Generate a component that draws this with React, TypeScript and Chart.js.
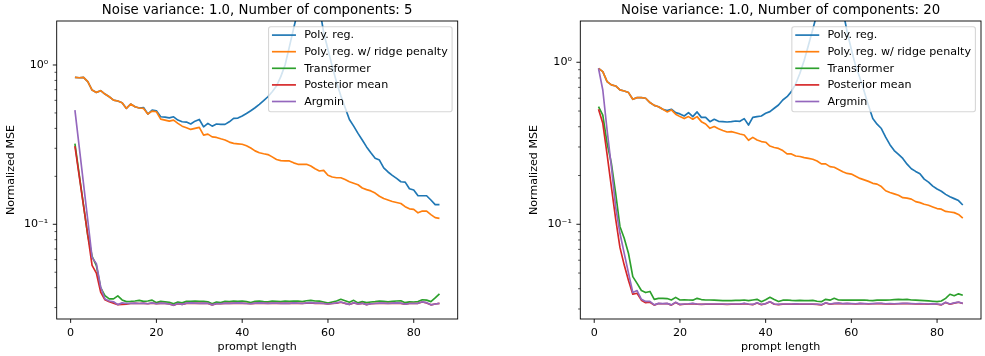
import React, { useEffect, useRef } from 'react';
import { Chart, registerables } from 'chart.js';

Chart.register(...registerables);

const FONT = '"DejaVu Sans", "Liberation Sans", sans-serif';

// ---------------- data ----------------
const promptLength = Array.from({ length: 86 }, (_, i) => i + 1);

const seriesNames = ['Poly. reg.', 'Poly. reg. w/ ridge penalty', 'Transformer', 'Posterior mean', 'Argmin'];
const seriesColors = ['#1f77b4', '#ff7f0e', '#2ca02c', '#d62728', '#9467bd'];

const xTickValues = [0, 20, 40, 60, 80];
const yMajorTicks = [0.1, 1];
const yMajorLabels = ['10\u207B\u00B9', '10\u2070'];
const yMinorTicks = [0.03, 0.04, 0.05, 0.06, 0.07, 0.08, 0.09, 0.2, 0.3, 0.4, 0.5, 0.6, 0.7, 0.8, 0.9];

const leftTitle = 'Noise variance: 1.0, Number of components: 5';
const rightTitle = 'Noise variance: 1.0, Number of components: 20';

// Left panel (5 components)
const leftPolyReg = [
  0.836, 0.832, 0.836, 0.786, 0.696, 0.673, 0.690, 0.657, 0.632, 0.602,
  0.594, 0.580, 0.534, 0.569, 0.547, 0.537, 0.541, 0.492, 0.521, 0.516,
  0.473, 0.471, 0.466, 0.473, 0.451, 0.440, 0.438, 0.426, 0.444, 0.455,
  0.409, 0.430, 0.413, 0.426, 0.424, 0.424, 0.440, 0.462, 0.464, 0.478,
  0.496, 0.516, 0.539, 0.566, 0.597, 0.632, 0.680, 0.738, 0.845, 1.00,
  1.30, 1.70, 2.20, 2.80, 3.20, 3.40, 3.00, 2.30, 1.60, 1.25,
  0.98, 0.78, 0.64, 0.54, 0.455, 0.413, 0.372, 0.338, 0.306, 0.281,
  0.260, 0.253, 0.226, 0.213, 0.203, 0.194, 0.185, 0.184, 0.167, 0.164,
  0.151, 0.151, 0.151, 0.142, 0.133, 0.133,
];
const leftRidge = [
  0.836, 0.832, 0.836, 0.786, 0.696, 0.673, 0.690, 0.657, 0.632, 0.602,
  0.594, 0.580, 0.534, 0.569, 0.547, 0.537, 0.534, 0.492, 0.513, 0.509,
  0.457, 0.451, 0.444, 0.451, 0.430, 0.413, 0.404, 0.394, 0.400, 0.406,
  0.363, 0.368, 0.354, 0.351, 0.344, 0.338, 0.328, 0.322, 0.320, 0.318,
  0.311, 0.301, 0.289, 0.281, 0.277, 0.274, 0.265, 0.255, 0.251, 0.250,
  0.250, 0.243, 0.238, 0.238, 0.238, 0.232, 0.223, 0.216, 0.218, 0.203,
  0.198, 0.196, 0.196, 0.191, 0.185, 0.181, 0.177, 0.169, 0.165, 0.162,
  0.157, 0.150, 0.145, 0.142, 0.139, 0.137, 0.135, 0.129, 0.125, 0.124,
  0.118, 0.121, 0.121, 0.115, 0.110, 0.109,
];
const leftTransformer = [
  0.321, 0.205, 0.132, 0.085, 0.063, 0.055, 0.040, 0.0357, 0.0340, 0.0340,
  0.0355, 0.0335, 0.0327, 0.0328, 0.0330, 0.0333, 0.0328, 0.0330, 0.0334, 0.0322,
  0.0328, 0.0326, 0.0324, 0.0317, 0.0325, 0.0321, 0.0328, 0.0328, 0.0329, 0.0328,
  0.0328, 0.0326, 0.0317, 0.0325, 0.0322, 0.0328, 0.0327, 0.0329, 0.0328, 0.0330,
  0.0327, 0.0323, 0.0328, 0.0329, 0.0327, 0.0326, 0.0329, 0.0328, 0.0327, 0.0329,
  0.0328, 0.0330, 0.0329, 0.0327, 0.0331, 0.0333, 0.0330, 0.0329, 0.0325, 0.0320,
  0.0325, 0.0330, 0.0338, 0.0331, 0.0324, 0.0333, 0.0321, 0.0327, 0.0322, 0.0325,
  0.0327, 0.0330, 0.0328, 0.0326, 0.0328, 0.0330, 0.0331, 0.0322, 0.0326, 0.0325,
  0.0327, 0.0336, 0.0334, 0.0327, 0.0345, 0.0366,
];
const leftPosterior = [
  0.310, 0.201, 0.131, 0.0853, 0.0552, 0.0494, 0.0375, 0.0336, 0.0326, 0.0320,
  0.0313, 0.0314, 0.0315, 0.0318, 0.0319, 0.0318, 0.0319, 0.0317, 0.0320, 0.0317,
  0.0319, 0.0318, 0.0316, 0.0310, 0.0317, 0.0314, 0.0319, 0.0320, 0.0319, 0.0319,
  0.0319, 0.0318, 0.0312, 0.0317, 0.0317, 0.0319, 0.0319, 0.0319, 0.0320, 0.0319,
  0.0318, 0.0317, 0.0319, 0.0320, 0.0319, 0.0319, 0.0319, 0.0319, 0.0319, 0.0319,
  0.0319, 0.0320, 0.0319, 0.0318, 0.0320, 0.0321, 0.0319, 0.0319, 0.0318, 0.0316,
  0.0318, 0.0320, 0.0324, 0.0319, 0.0314, 0.0321, 0.0316, 0.0319, 0.0313, 0.0317,
  0.0318, 0.0319, 0.0319, 0.0318, 0.0319, 0.0320, 0.0319, 0.0315, 0.0318, 0.0318,
  0.0319, 0.0325, 0.0321, 0.0312, 0.0316, 0.0319,
];
const leftArgmin = [
  0.521, 0.306, 0.180, 0.106, 0.062, 0.0566, 0.0404, 0.0340, 0.0330, 0.0326,
  0.0313, 0.0321, 0.0318, 0.0319, 0.0320, 0.0318, 0.0320, 0.0317, 0.0321, 0.0317,
  0.0320, 0.0319, 0.0316, 0.0310, 0.0318, 0.0314, 0.0320, 0.0321, 0.0320, 0.0319,
  0.0320, 0.0319, 0.0312, 0.0318, 0.0317, 0.0320, 0.0319, 0.0320, 0.0321, 0.0320,
  0.0318, 0.0317, 0.0320, 0.0321, 0.0320, 0.0319, 0.0320, 0.0320, 0.0319, 0.0320,
  0.0319, 0.0321, 0.0320, 0.0318, 0.0321, 0.0322, 0.0320, 0.0320, 0.0318, 0.0316,
  0.0318, 0.0321, 0.0325, 0.0319, 0.0314, 0.0322, 0.0316, 0.0319, 0.0313, 0.0317,
  0.0318, 0.0320, 0.0320, 0.0318, 0.0320, 0.0321, 0.0320, 0.0315, 0.0318, 0.0318,
  0.0319, 0.0326, 0.0322, 0.0312, 0.0316, 0.0319,
];

// Right panel (20 components)
const rightPolyReg = [
  0.918, 0.876, 0.760, 0.725, 0.714, 0.675, 0.665, 0.650, 0.591, 0.605,
  0.605, 0.600, 0.564, 0.542, 0.532, 0.513, 0.503, 0.513, 0.489, 0.480,
  0.466, 0.489, 0.462, 0.494, 0.457, 0.457, 0.430, 0.445, 0.432, 0.430,
  0.428, 0.430, 0.434, 0.432, 0.449, 0.410, 0.457, 0.462, 0.466, 0.484,
  0.496, 0.520, 0.545, 0.585, 0.613, 0.659, 0.734, 0.855, 1.03, 1.28,
  1.60, 2.00, 2.50, 3.00, 3.30, 3.20, 2.70, 2.10, 1.55, 1.20,
  0.95, 0.80, 0.66, 0.54, 0.45, 0.415, 0.39, 0.345, 0.31, 0.285,
  0.27, 0.255, 0.235, 0.22, 0.212, 0.205, 0.19, 0.182, 0.172, 0.165,
  0.16, 0.153, 0.148, 0.144, 0.140, 0.1315,
];
const rightRidge = [
  0.918, 0.876, 0.760, 0.725, 0.714, 0.675, 0.665, 0.650, 0.591, 0.605,
  0.605, 0.600, 0.564, 0.542, 0.532, 0.513, 0.494, 0.508, 0.478, 0.462,
  0.449, 0.462, 0.445, 0.462, 0.430, 0.416, 0.391, 0.401, 0.389, 0.379,
  0.371, 0.373, 0.367, 0.361, 0.356, 0.330, 0.344, 0.331, 0.324, 0.321,
  0.304, 0.298, 0.294, 0.285, 0.272, 0.272, 0.264, 0.262, 0.258, 0.255,
  0.252, 0.246, 0.236, 0.236, 0.227, 0.225, 0.218, 0.211, 0.206, 0.204,
  0.198, 0.192, 0.188, 0.184, 0.179, 0.177, 0.171, 0.161, 0.157, 0.154,
  0.151, 0.146, 0.145, 0.143, 0.138, 0.136, 0.133, 0.131, 0.128, 0.125,
  0.124, 0.120, 0.119, 0.118, 0.115, 0.109,
];
const rightTransformer = [
  0.532, 0.472, 0.316, 0.238, 0.155, 0.097, 0.082, 0.066, 0.0475, 0.0432,
  0.0390, 0.0379, 0.0385, 0.0344, 0.0349, 0.0349, 0.0348, 0.0341, 0.0354, 0.0341,
  0.0342, 0.0341, 0.0340, 0.0349, 0.0343, 0.0341, 0.0341, 0.0340, 0.0339, 0.0338,
  0.0338, 0.0338, 0.0339, 0.0339, 0.0341, 0.0338, 0.0341, 0.0344, 0.0333, 0.0342,
  0.0354, 0.0343, 0.0334, 0.0340, 0.0341, 0.0339, 0.0338, 0.0339, 0.0338, 0.0338,
  0.0339, 0.0335, 0.0333, 0.0344, 0.0340, 0.0349, 0.0341, 0.0340, 0.0341, 0.0340,
  0.0341, 0.0340, 0.0341, 0.0339, 0.0338, 0.0340, 0.0341, 0.0340, 0.0341, 0.0343,
  0.0344, 0.0343, 0.0344, 0.0341, 0.0340, 0.0339, 0.0338, 0.0337, 0.0335, 0.0333,
  0.0336, 0.0349, 0.0370, 0.0362, 0.0372, 0.0365,
];
const rightPosterior = [
  0.513, 0.420, 0.270, 0.170, 0.108, 0.072, 0.056, 0.045, 0.037, 0.0375,
  0.0340, 0.0328, 0.0330, 0.0317, 0.0324, 0.0323, 0.0324, 0.0317, 0.0329, 0.0319,
  0.0321, 0.0322, 0.0324, 0.0321, 0.0320, 0.0321, 0.0321, 0.0321, 0.0321, 0.0321,
  0.0320, 0.0321, 0.0321, 0.0321, 0.0324, 0.0321, 0.0319, 0.0327, 0.0319, 0.0323,
  0.0332, 0.0321, 0.0319, 0.0321, 0.0321, 0.0321, 0.0322, 0.0321, 0.0321, 0.0321,
  0.0321, 0.0320, 0.0318, 0.0327, 0.0321, 0.0324, 0.0325, 0.0323, 0.0324, 0.0323,
  0.0322, 0.0324, 0.0323, 0.0322, 0.0323, 0.0324, 0.0324, 0.0322, 0.0323, 0.0322,
  0.0323, 0.0324, 0.0324, 0.0323, 0.0322, 0.0323, 0.0322, 0.0321, 0.0323, 0.0321,
  0.0318, 0.0329, 0.0321, 0.0326, 0.0330, 0.0324,
];
const rightArgmin = [
  0.918, 0.674, 0.382, 0.227, 0.128, 0.088, 0.0662, 0.0499, 0.0379, 0.0390,
  0.0344, 0.0334, 0.0334, 0.0318, 0.0325, 0.0324, 0.0325, 0.0318, 0.0330, 0.0320,
  0.0322, 0.0323, 0.0325, 0.0322, 0.0321, 0.0322, 0.0322, 0.0322, 0.0322, 0.0322,
  0.0321, 0.0322, 0.0322, 0.0322, 0.0325, 0.0322, 0.0320, 0.0328, 0.0320, 0.0324,
  0.0333, 0.0322, 0.0320, 0.0322, 0.0322, 0.0322, 0.0323, 0.0322, 0.0322, 0.0322,
  0.0322, 0.0321, 0.0319, 0.0328, 0.0322, 0.0325, 0.0326, 0.0324, 0.0325, 0.0324,
  0.0323, 0.0325, 0.0324, 0.0323, 0.0324, 0.0325, 0.0325, 0.0323, 0.0324, 0.0323,
  0.0324, 0.0325, 0.0325, 0.0324, 0.0323, 0.0324, 0.0323, 0.0322, 0.0324, 0.0322,
  0.0319, 0.0330, 0.0322, 0.0327, 0.0331, 0.0325,
];

// ---------------- drawing helpers ----------------
const decorPlugin = {
  id: 'decor',
  afterDatasetsDraw(chart: any, _args: any, opts: any) {
    const { ctx, chartArea } = chart;
    const { left, right, top, bottom } = chartArea;
    const xs = chart.scales.x;
    const ys = chart.scales.y;
    ctx.save();

    // legend (inside, upper right)
    ctx.font = `11.1px ${FONT}`;
    let maxW = 0;
    for (const n of seriesNames) maxW = Math.max(maxW, ctx.measureText(n).width);
    const boxRight = right - 5.6;
    const boxTop = top + 5.7;
    const boxW = maxW + 40;
    const boxH = 85;
    const boxLeft = boxRight - boxW;
    const r = 2.2;
    ctx.beginPath();
    ctx.moveTo(boxLeft + r, boxTop);
    ctx.lineTo(boxRight - r, boxTop);
    ctx.quadraticCurveTo(boxRight, boxTop, boxRight, boxTop + r);
    ctx.lineTo(boxRight, boxTop + boxH - r);
    ctx.quadraticCurveTo(boxRight, boxTop + boxH, boxRight - r, boxTop + boxH);
    ctx.lineTo(boxLeft + r, boxTop + boxH);
    ctx.quadraticCurveTo(boxLeft, boxTop + boxH, boxLeft, boxTop + boxH - r);
    ctx.lineTo(boxLeft, boxTop + r);
    ctx.quadraticCurveTo(boxLeft, boxTop, boxLeft + r, boxTop);
    ctx.closePath();
    ctx.fillStyle = 'rgba(255,255,255,0.8)';
    ctx.fill();
    ctx.strokeStyle = 'rgba(204,204,204,0.8)';
    ctx.lineWidth = 1.1;
    ctx.stroke();
    seriesNames.forEach((n, i) => {
      const cy = boxTop + 8.4 + i * 16.6;
      ctx.strokeStyle = seriesColors[i];
      ctx.lineWidth = 1.67;
      ctx.beginPath();
      ctx.moveTo(boxLeft + 3.4, cy);
      ctx.lineTo(boxLeft + 27.4, cy);
      ctx.stroke();
      ctx.fillStyle = '#000';
      ctx.textAlign = 'left';
      ctx.textBaseline = 'middle';
      ctx.fillText(n, boxLeft + 35.6, cy + 0.5);
    });

    // spines
    ctx.strokeStyle = '#000';
    ctx.lineWidth = 0.9;
    ctx.strokeRect(left, top, right - left, bottom - top);

    // x ticks
    ctx.lineWidth = 0.9;
    ctx.beginPath();
    for (const v of xTickValues) {
      const px = xs.getPixelForValue(v);
      ctx.moveTo(px, bottom);
      ctx.lineTo(px, bottom + 3.9);
    }
    // y major ticks
    for (const v of yMajorTicks) {
      const py = ys.getPixelForValue(v);
      ctx.moveTo(left, py);
      ctx.lineTo(left - 3.9, py);
    }
    ctx.stroke();
    ctx.lineWidth = 0.67;
    ctx.beginPath();
    for (const v of yMinorTicks) {
      if (v < ys.min || v > ys.max) continue;
      const py = ys.getPixelForValue(v);
      ctx.moveTo(left, py);
      ctx.lineTo(left - 2.2, py);
    }
    ctx.stroke();

    // title
    ctx.font = `13.3px ${FONT}`;
    ctx.fillStyle = '#000';
    ctx.textAlign = 'center';
    ctx.textBaseline = 'alphabetic';
    ctx.fillText(opts.title, (left + right) / 2, top - 6.7);
    ctx.restore();
  },
};

type PanelProps = {
  title: string;
  values: number[][];
  yMin: number;
  yMax: number;
  left: number;
  width: number;
  padLeft: number;
  padRight: number;
};

function Panel({ title, values, yMin, yMax, left, width, padLeft, padRight }: PanelProps) {
  const ref = useRef<HTMLCanvasElement | null>(null);
  useEffect(() => {
    if (!ref.current) return;
    const orders = [4, 3, 2, 1, 0];
    const chart = new Chart(ref.current, {
      type: 'line',
      data: {
        datasets: values.map((vals, i) => ({
          label: seriesNames[i],
          data: promptLength.map((x, j) => ({ x, y: vals[j] })),
          borderColor: seriesColors[i],
          backgroundColor: seriesColors[i],
          borderWidth: 1.67,
          borderJoinStyle: 'round',
          pointRadius: 0,
          pointHoverRadius: 0,
          fill: false,
          tension: 0,
          order: orders[i],
          clip: 0,
        })),
      },
      options: {
        animation: false,
        responsive: false,
        maintainAspectRatio: false,
        events: [],
        layout: { padding: { left: padLeft, right: padRight, top: 21, bottom: 0 } },
        plugins: {
          legend: { display: false },
          title: { display: false },
          tooltip: { enabled: false },
          decor: { title },
        } as any,
        scales: {
          x: {
            type: 'linear',
            min: -3.25,
            max: 90.25,
            bounds: 'data',
            afterBuildTicks: (s: any) => {
              s.ticks = xTickValues.map((v) => ({ value: v }));
            },
            afterFit: (s: any) => {
              s.height = 37;
            },
            grid: { display: false, drawTicks: false },
            border: { display: false },
            ticks: {
              padding: 7.5,
              color: '#000',
              autoSkip: false,
              maxRotation: 0,
              font: { family: FONT, size: 11.1 },
            },
            title: {
              display: true,
              text: 'prompt length',
              color: '#000',
              font: { family: FONT, size: 11.1 },
              padding: { top: 0, bottom: 2.3 },
            },
          },
          y: {
            type: 'logarithmic',
            min: yMin,
            max: yMax,
            bounds: 'data',
            afterBuildTicks: (s: any) => {
              const all = [...yMinorTicks, ...yMajorTicks]
                .filter((v) => v >= yMin && v <= yMax)
                .sort((a, b) => a - b);
              s.ticks = all.map((v) => ({ value: v }));
            },
            afterFit: (s: any) => {
              s.width = 56.7;
            },
            grid: { display: false, drawTicks: false },
            border: { display: false },
            ticks: {
              padding: 8.4,
              color: '#000',
              autoSkip: false,
              font: { family: FONT, size: 11.1 },
              callback: (v: any) => {
                const val = Number(v);
                for (let k = 0; k < yMajorTicks.length; k++) {
                  if (Math.abs(val - yMajorTicks[k]) < 1e-9) return yMajorLabels[k];
                }
                return '';
              },
            },
            title: {
              display: true,
              text: 'Normalized MSE',
              color: '#000',
              font: { family: FONT, size: 11.1 },
              padding: { top: 4.2, bottom: 0 },
            },
          },
        } as any,
      } as any,
      plugins: [decorPlugin as any],
    });
    return () => chart.destroy();
  }, []);
  return (
    <canvas
      ref={ref}
      width={width}
      height={356}
      style={{ position: 'absolute', left, top: 0, width, height: 356, display: 'block' }}
    />
  );
}

export default function App() {
  return (
    <div
      style={{
        position: 'absolute',
        left: 0,
        top: 0,
        width: 985,
        height: 356,
        background: '#ffffff',
        overflow: 'hidden',
      }}
    >
      <Panel
        title={leftTitle}
        values={[leftPolyReg, leftRidge, leftTransformer, leftPosterior, leftArgmin]}
        yMin={0.02543}
        yMax={1.889}
        left={0}
        width={490}
        padLeft={0}
        padRight={32.3}
      />
      <Panel
        title={rightTitle}
        values={[rightPolyReg, rightRidge, rightTransformer, rightPosterior, rightArgmin]}
        yMin={0.02602}
        yMax={1.798}
        left={490}
        width={495}
        padLeft={33.6}
        padRight={4}
      />
    </div>
  );
}
